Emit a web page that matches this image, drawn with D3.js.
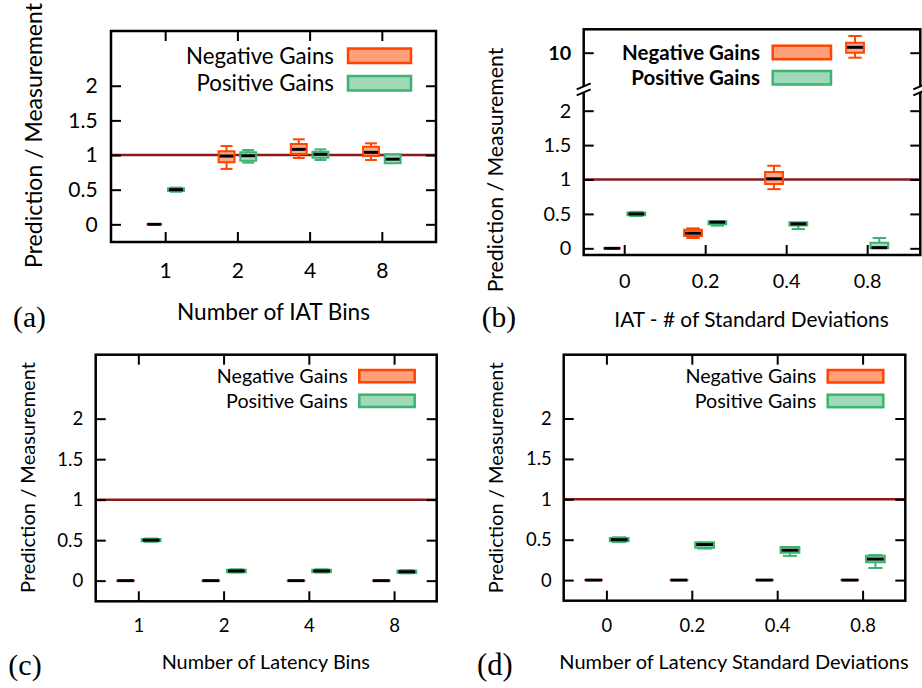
<!DOCTYPE html>
<html><head><meta charset="utf-8">
<script src="https://cdn.jsdelivr.net/npm/d3@7"></script>
<style>
body{margin:0;background:#fff}
svg{display:block}
</style>
</head><body>
<svg id="chart" width="922" height="688"></svg>
<script>
// ---------- data ----------
const seriesNames = ["Negative Gains", "Positive Gains"];
const catsA = ["1", "2", "4", "8"];
const catsB = ["0", "0.2", "0.4", "0.8"];
const catsC = ["1", "2", "4", "8"];
const catsD = ["0", "0.2", "0.4", "0.8"];
const yTicks = [0, 0.5, 1, 1.5, 2];
const yTicksUpperB = [10];
const refValue = 1;
// box stats: [whiskerLow, q1, median, q3, whiskerHigh]
const negA = [[0,0,0,0,0],[0.80,0.895,0.985,1.055,1.13],[0.957,1.014,1.082,1.159,1.227],[0.928,0.985,1.039,1.12,1.169]];
const posA = [[0.47,0.48,0.50,0.52,0.53],[0.89,0.918,0.99,1.04,1.072],[0.928,0.961,1.01,1.048,1.082],[0.88,0.88,0.94,1.01,1.01]];
const negB = [[0,0,0,0,0],[0.15,0.18,0.22,0.27,0.29],[0.86,0.935,1.01,1.11,1.20],[9.5,10.0,10.54,11.0,11.67]];
const posB = [[0.47,0.48,0.50,0.52,0.53],[0.33,0.35,0.38,0.395,0.395],[0.28,0.33,0.355,0.38,0.38],[0,0,0.01,0.08,0.15]];
const negC = [[0,0,0,0,0],[0,0,0,0,0],[0,0,0,0,0],[0,0,0,0,0]];
const posC = [[0.48,0.485,0.50,0.515,0.52],[0.10,0.105,0.12,0.135,0.14],[0.10,0.105,0.12,0.135,0.14],[0.09,0.095,0.11,0.125,0.13]];
const negD = [[0,0,0,0,0],[0,0,0,0,0],[0,0,0,0,0],[0,0,0,0,0]];
const posD = [[0.47,0.48,0.50,0.52,0.53],[0.39,0.40,0.44,0.47,0.47],[0.30,0.34,0.37,0.41,0.41],[0.15,0.22,0.26,0.30,0.31]];

// ---------- style ----------
const SANS = "Lato, 'Open Sans', sans-serif";
const SERIF = "'Liberation Serif', 'Times New Roman', serif";
const negStroke = "#ff4500", negFill = "#ffa07a";
const posStroke = "#3cb371", posFill = "#9fd9b8";
const refColor = "#8b1a1a";
const boxOffset = 0.15, boxWidth = 0.22;

const svg = d3.select("#chart");

// size a text element so that its rendered width matches a target width
function fit(sel, target) {
  const base = 20;
  sel.style("font-size", base + "px");
  const w = sel.node().getComputedTextLength();
  const fs = base * target / w;
  sel.style("font-size", fs + "px");
  return fs;
}

function drawPanel(cfg) {
  const g = svg.append("g");
  const x = d3.scaleLinear().domain(cfg.xDomain).range([cfg.left, cfg.right]);
  const yLow = d3.scaleLinear().domain(cfg.yDomain).range([cfg.bottom, cfg.breakY || cfg.top]);
  const yUp = cfg.broken ? d3.scaleLinear().domain(cfg.yUpDomain).range([cfg.breakY, cfg.top]) : null;
  const y = v => (cfg.broken && v > 5) ? yUp(v) : yLow(v);

  // tick font size from the width of "1.5"
  const probe = g.append("text").style("font-family", SANS).text("1.5");
  const fs = fit(probe, cfg.tickW);
  probe.remove();

  // reference line
  g.append("line").attr("x1", cfg.left).attr("x2", cfg.right)
    .attr("y1", yLow(refValue)).attr("y2", yLow(refValue))
    .attr("stroke", refColor).attr("stroke-width", 2.5);

  // boxes
  const series = [
    {data: cfg.neg, off: -boxOffset, stroke: negStroke, fill: negFill},
    {data: cfg.pos, off: boxOffset, stroke: posStroke, fill: posFill}
  ];
  series.forEach(s => {
    s.data.forEach((d, i) => {
      const cx = x(i + s.off);
      const hw = (x(boxWidth) - x(0)) / 2;
      const cw = hw * 0.75;
      const [lo, q1, med, q3, hi] = d;
      const bg = g.append("g");
      bg.append("path")
        .attr("d", `M${cx-hw},${y(q3)}H${cx+hw}V${y(q1)}H${cx-hw}Z`)
        .attr("fill", s.fill).attr("fill-opacity", 0.9)
        .attr("stroke", s.stroke).attr("stroke-width", 2);
      if (hi > q3) {
        bg.append("line").attr("x1", cx).attr("x2", cx).attr("y1", y(q3)).attr("y2", y(hi))
          .attr("stroke", s.stroke).attr("stroke-width", 2);
        bg.append("line").attr("x1", cx-cw).attr("x2", cx+cw).attr("y1", y(hi)).attr("y2", y(hi))
          .attr("stroke", s.stroke).attr("stroke-width", 2);
      }
      if (lo < q1) {
        bg.append("line").attr("x1", cx).attr("x2", cx).attr("y1", y(q1)).attr("y2", y(lo))
          .attr("stroke", s.stroke).attr("stroke-width", 2);
        bg.append("line").attr("x1", cx-cw).attr("x2", cx+cw).attr("y1", y(lo)).attr("y2", y(lo))
          .attr("stroke", s.stroke).attr("stroke-width", 2);
      }
      bg.append("line").attr("x1", cx-hw+1).attr("x2", cx+hw-1).attr("y1", y(med)).attr("y2", y(med))
        .attr("stroke", "#000").attr("stroke-width", 3);
    });
  });

  // axes
  const idx = d3.range(cfg.cats.length);
  const bx = g.append("g").attr("transform", `translate(0,${cfg.bottom})`)
    .call(d3.axisBottom(x).tickValues(idx).tickFormat(i => cfg.cats[i])
      .tickSizeInner(-10).tickSizeOuter(0));
  bx.selectAll(".tick text").attr("y", cfg.xTickBase - cfg.bottom).attr("dy", 0);
  if (cfg.topTicks) {
    g.append("g").attr("transform", `translate(0,${cfg.top})`)
      .call(d3.axisTop(x).tickValues(idx).tickFormat("").tickSizeInner(-10).tickSizeOuter(0));
  }
  const ly = g.append("g").attr("transform", `translate(${cfg.left},0)`)
    .call(d3.axisLeft(yLow).tickValues(yTicks).tickFormat(d3.format("")).tickSizeInner(-10).tickSizeOuter(0).tickPadding(cfg.yPad));
  g.append("g").attr("transform", `translate(${cfg.right},0)`)
    .call(d3.axisRight(yLow).tickValues(yTicks).tickFormat("").tickSizeInner(-10).tickSizeOuter(0));
  if (cfg.broken) {
    g.append("g").attr("class", "upper").attr("transform", `translate(${cfg.left},0)`)
      .call(d3.axisLeft(yUp).tickValues(yTicksUpperB).tickFormat(d3.format("d")).tickSizeInner(-10).tickSizeOuter(0).tickPadding(cfg.yPad));
    g.append("g").attr("transform", `translate(${cfg.right},0)`)
      .call(d3.axisRight(yUp).tickValues(yTicksUpperB).tickFormat("").tickSizeInner(-10).tickSizeOuter(0));
  }
  g.selectAll(".domain").remove();
  g.selectAll(".tick line").attr("stroke", "#000").attr("stroke-width", 2);
  g.selectAll(".tick text").style("font-family", SANS).style("font-size", fs + "px").attr("fill", "#000");
  g.selectAll(".upper .tick text").style("font-weight", 700);

  // frame
  g.append("rect").attr("x", cfg.left).attr("y", cfg.top)
    .attr("width", cfg.right - cfg.left).attr("height", cfg.bottom - cfg.top)
    .attr("fill", "none").attr("stroke", "#000").attr("stroke-width", 2.5);

  if (cfg.broken) {
    [cfg.left, cfg.right].forEach(bxp => {
      g.append("rect").attr("x", bxp - 3).attr("y", cfg.breakY - 3).attr("width", 6).attr("height", 6).attr("fill", "#fff");
      [-3, 3].forEach(dy => {
        g.append("line").attr("x1", bxp - 7).attr("y1", cfg.breakY + dy + 3)
          .attr("x2", bxp + 7).attr("y2", cfg.breakY + dy - 3)
          .attr("stroke", "#000").attr("stroke-width", 2);
      });
    });
  }

  // legend
  const lg = cfg.legend;
  let legFs = null;
  [[negFill, negStroke], [posFill, posStroke]].forEach((c, k) => {
    const ry = lg.rows[k];
    g.append("rect").attr("x", lg.x0).attr("y", ry).attr("width", lg.x1 - lg.x0).attr("height", lg.h)
      .attr("fill", c[0]).attr("stroke", c[1]).attr("stroke-width", 2.5);
    const t = g.append("text").attr("x", lg.tx).attr("y", ry + lg.h / 2).attr("dy", "0.36em")
      .attr("text-anchor", "end").style("font-family", SANS)
      .style("font-weight", cfg.legendWeight || 400).attr("fill", "#000").text(seriesNames[k]);
    if (k === 0) legFs = fit(t, lg.w);
    else t.style("font-size", legFs + "px");
  });

  // titles
  const yt = g.append("text").attr("transform", `translate(${cfg.yTitleX},${cfg.yTitleY}) rotate(-90)`)
    .attr("text-anchor", "middle").style("font-family", SANS).attr("fill", "#000").text("Prediction / Measurement");
  fit(yt, cfg.yTitleW);
  const xt = g.append("text").attr("x", cfg.xTitleX).attr("y", cfg.xTitleBase)
    .attr("text-anchor", "middle").style("font-family", SANS).attr("fill", "#000").text(cfg.xTitle);
  fit(xt, cfg.xTitleW);
  const tg = g.append("text").attr("x", cfg.tagX).attr("y", cfg.tagBase)
    .style("font-family", SERIF).attr("fill", "#000").text(cfg.tag);
  fit(tg, cfg.tagW);
}

drawPanel({
  cats: catsA, neg: negA, pos: posA,
  left: 111, right: 436, top: 31, bottom: 242,
  xDomain: [-0.75, 3.75], yDomain: [-0.255, 2.79],
  tickW: 29.4, xTickBase: 277.7, yPad: 13.3, topTicks: true,
  legend: {x0: 348, x1: 411, h: 14.5, rows: [48.5, 76], tx: 334, w: 148},
  yTitleX: 42, yTitleY: 135.5, yTitleW: 265,
  xTitle: "Number of IAT Bins", xTitleX: 273.5, xTitleBase: 320, xTitleW: 193,
  tag: "(a)", tagX: 13, tagBase: 327, tagW: 33
});
drawPanel({
  cats: catsB, neg: negB, pos: posB,
  left: 583.7, right: 920.3, top: 29.3, bottom: 255, breakY: 89.3, broken: true,
  xDomain: [-0.5, 3.656], yDomain: [-0.097, 2.311], yUpDomain: [6.34, 12.34],
  tickW: 27.7, xTickBase: 288.3, yPad: 12.5, topTicks: false,
  legend: {x0: 772.7, x1: 831, h: 13.5, rows: [45.7, 71], tx: 760, w: 138},
  legendWeight: 700,
  yTitleX: 503, yTitleY: 170, yTitleW: 244.6,
  xTitle: "IAT - # of Standard Deviations", xTitleX: 751.5, xTitleBase: 327, xTitleW: 274.4,
  tag: "(b)", tagX: 481.7, tagBase: 327, tagW: 34.3
});
drawPanel({
  cats: catsC, neg: negC, pos: posC,
  left: 95.7, right: 436.7, top: 354.7, bottom: 601.3,
  xDomain: [-0.5, 3.5], yDomain: [-0.255, 2.79],
  tickW: 26, xTickBase: 632.3, yPad: 12.4, topTicks: true,
  legend: {x0: 359.3, x1: 414.7, h: 12.3, rows: [370, 394.7], tx: 347.7, w: 131},
  yTitleX: 35, yTitleY: 477.5, yTitleW: 231,
  xTitle: "Number of Latency Bins", xTitleX: 265.8, xTitleBase: 669, xTitleW: 208.3,
  tag: "(c)", tagX: 8.3, tagBase: 675, tagW: 33.4
});
drawPanel({
  cats: catsD, neg: negD, pos: posD,
  left: 563.7, right: 905.3, top: 354.7, bottom: 600.7,
  xDomain: [-0.5, 3.5], yDomain: [-0.255, 2.79],
  tickW: 25.7, xTickBase: 632.3, yPad: 12, topTicks: true,
  legend: {x0: 827.7, x1: 883.3, h: 12.5, rows: [370, 394.7], tx: 816.3, w: 131},
  yTitleX: 503, yTitleY: 477.8, yTitleW: 231,
  xTitle: "Number of Latency Standard Deviations", xTitleX: 734, xTitleBase: 669, xTitleW: 349.4,
  tag: "(d)", tagX: 477, tagBase: 675, tagW: 35.7
});
</script>
</body></html>
